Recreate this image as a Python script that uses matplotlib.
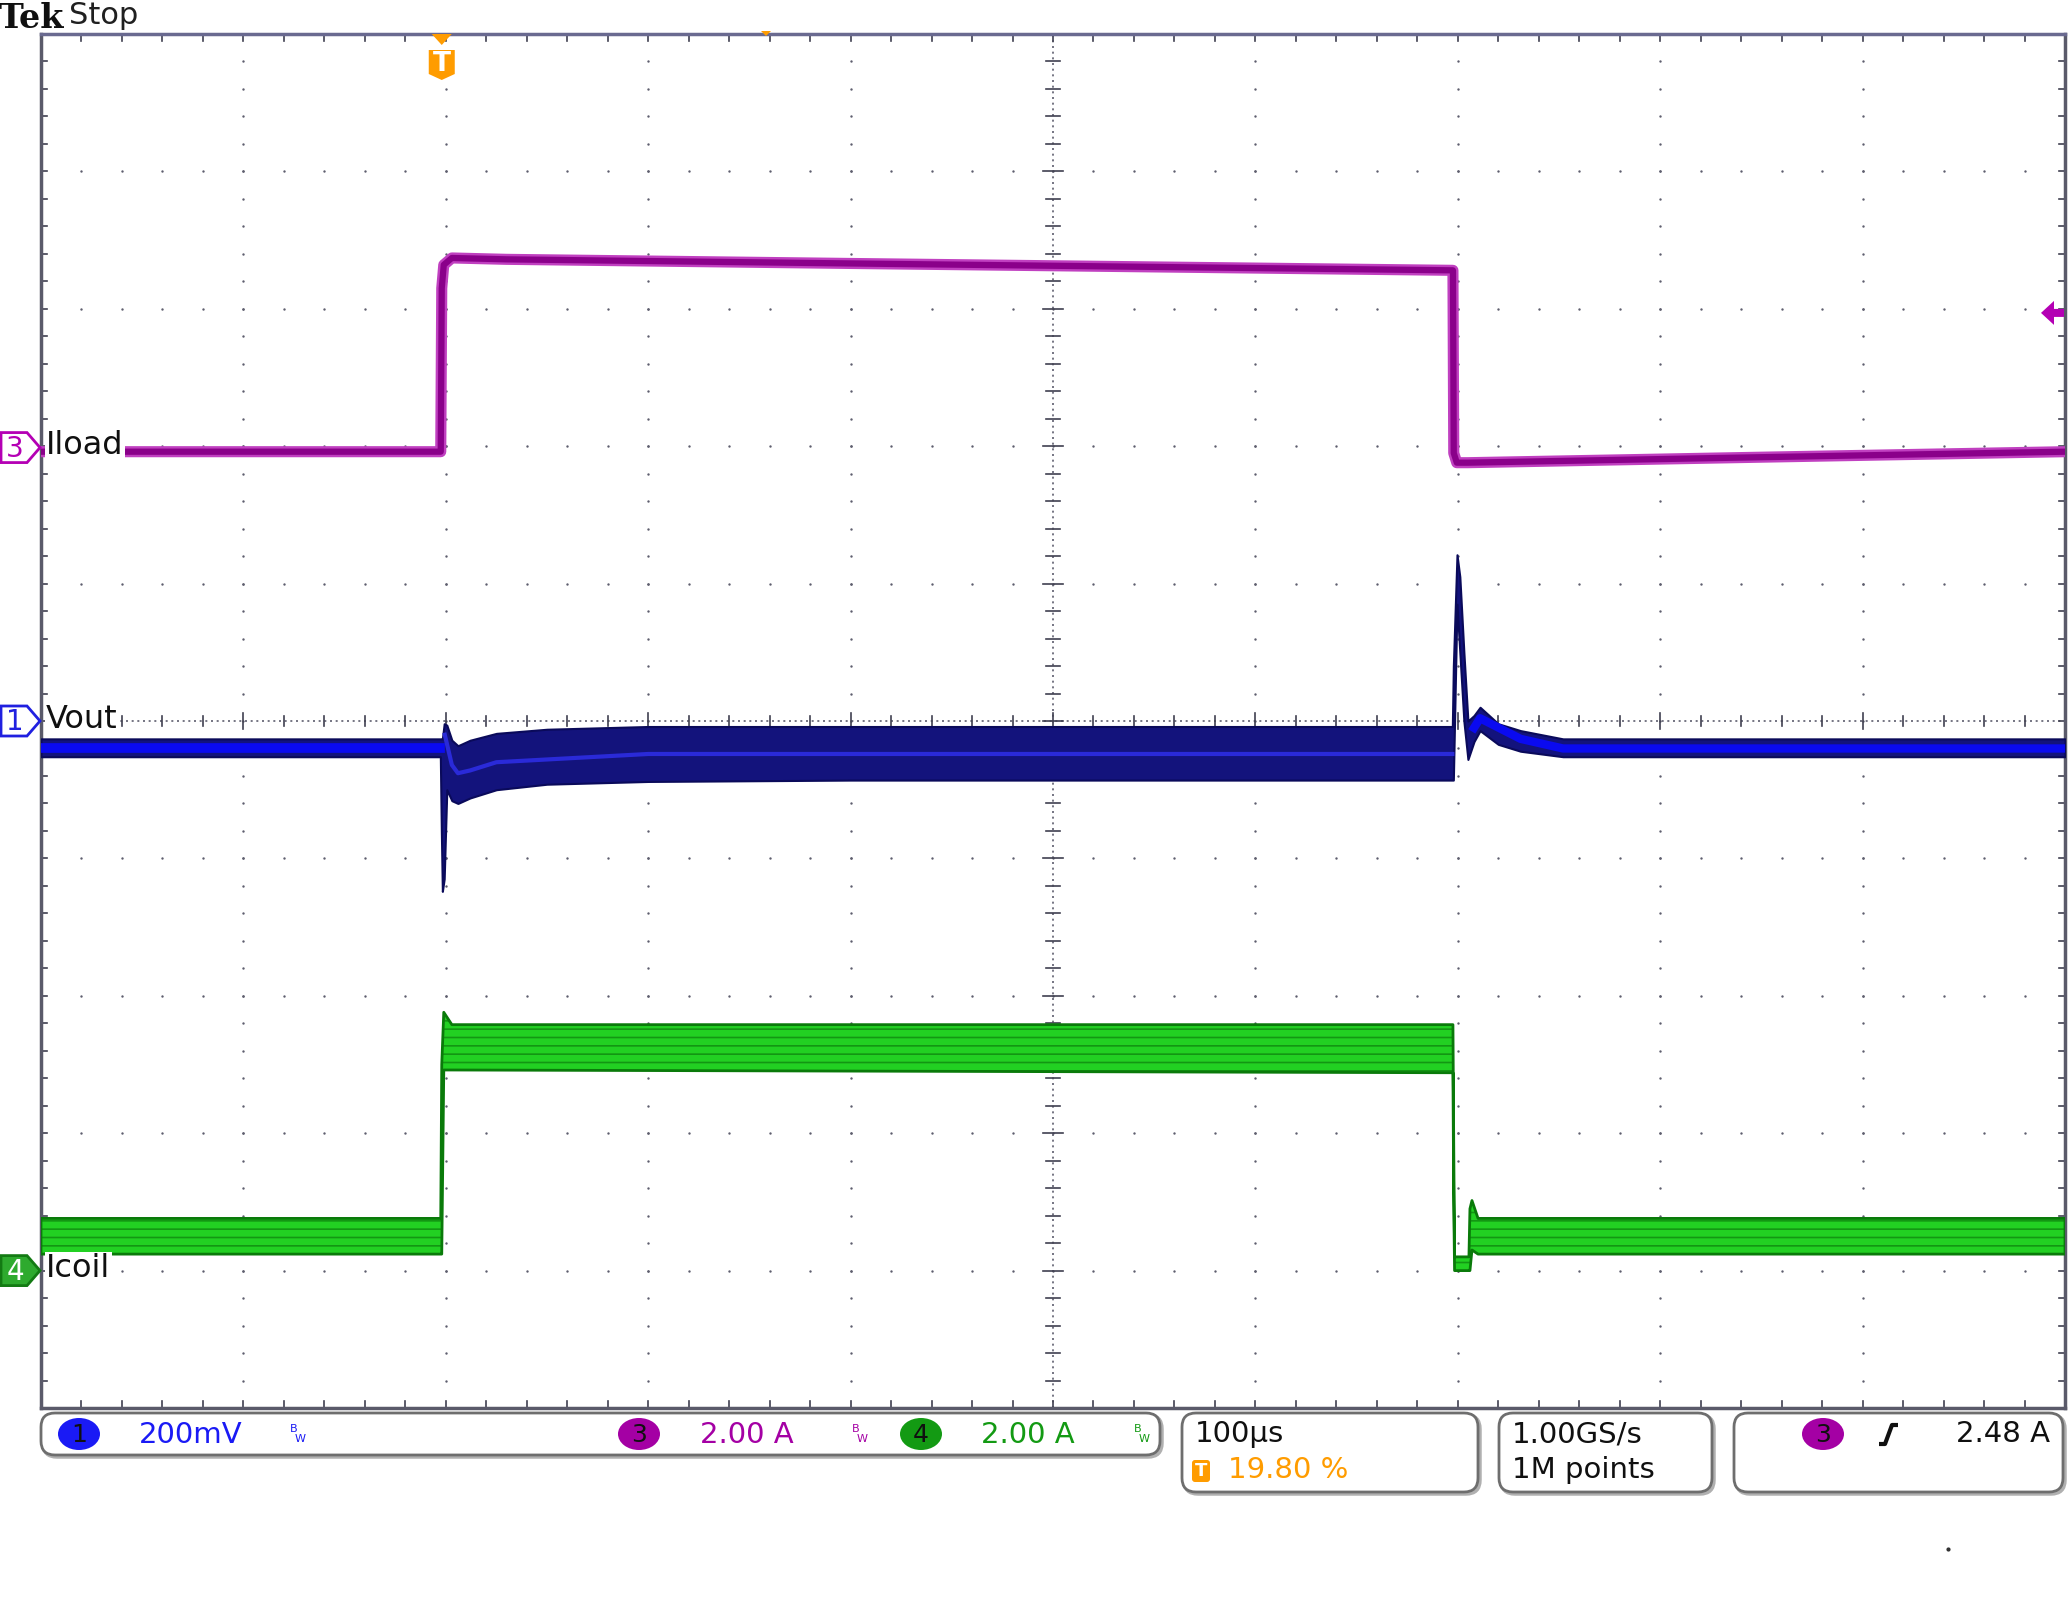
import numpy as np
import matplotlib
matplotlib.use("Agg")
import matplotlib.pyplot as plt
from matplotlib.patches import FancyBboxPatch, Polygon, Ellipse

# ---------------- data (time in µs, amplitude in screen divisions) ----------------
time_iload = [0, 197.5, 198.0, 199.0, 203, 230, 400, 697.6, 698.0, 699.5, 705, 850, 1000]
iload_div  = [6.96, 6.96, 8.15, 8.32, 8.37, 8.36, 8.33, 8.28, 6.95, 6.88, 6.88, 6.92, 6.96]

time_vout  = [0, 197.3, 197.8, 198.3, 199.2, 200.5, 203, 206, 212, 225, 250, 300, 400,
              697.3, 697.8, 699.6, 701, 703, 705, 708, 711, 720, 731, 752, 1000]
vout_upper = [4.87, 4.87, 4.87, 4.87, 4.98, 4.97, 4.86, 4.82, 4.86, 4.91, 4.94, 4.96, 4.96,
              4.96, 5.40, 6.21, 6.05, 5.50, 5.00, 5.04, 5.10, 4.98, 4.93, 4.87, 4.87]
vout_lower = [4.74, 4.74, 4.20, 3.76, 3.85, 4.50, 4.42, 4.40, 4.44, 4.50, 4.54, 4.56, 4.57,
              4.57, 4.57, 5.85, 5.50, 5.00, 4.72, 4.85, 4.93, 4.83, 4.78, 4.74, 4.74]
vout_base_t  = [0, 197.3]
vout_base_y  = [4.80, 4.80]
vout_load_t  = [199.5, 203, 206, 212, 225, 300, 697.3]
vout_load_y  = [4.90, 4.68, 4.62, 4.64, 4.70, 4.76, 4.76]
vout_rec_t   = [708, 711, 731, 752, 1000]
vout_rec_y   = [4.95, 5.02, 4.87, 4.80, 4.80]

time_icoil  = [0, 197.5, 198.0, 199.0, 203, 697.6, 698.0, 698.4, 705.5, 706.0, 707.0, 710, 1000]
icoil_upper = [1.38, 1.38, 2.50, 2.88, 2.79, 2.79, 1.90, 1.10, 1.10, 1.45, 1.51, 1.38, 1.38]
icoil_lower = [1.12, 1.12, 1.12, 2.46, 2.46, 2.44, 1.50, 1.00, 1.00, 1.00, 1.15, 1.12, 1.12]

channel_names   = ["Iload", "Vout", "Icoil"]
channel_ids     = ["3", "1", "4"]
channel_offsets = [6.99, 5.0, 1.0]     # ground markers, divisions
trigger_pos_us  = 198.0
trigger_level   = 7.97

scale_texts = ["200mV", "2.00 A", "2.00 A"]
timebase_text = "100µs"
trig_pct_text = "19.80 %"
rate_text = "1.00GS/s"
points_text = "1M points"
trig_level_text = "2.48 A"

# ---------------- colours ----------------
MAG = "#B400B4"
MAG_D = "#8A008A"
BLUE = "#0A0AF0"
NAVY = "#13137C"
GRN = "#22D022"
GRN_D = "#0A7A0A"
ORANGE = "#FF9C00"
GRID = "#5E5E6E"

plt.rcParams["hatch.linewidth"] = 1.2

W, H = 2071, 1619
fig = plt.figure(figsize=(W / 100, H / 100), dpi=100)
fig.patch.set_facecolor("white")

L, R, T, B = 41, 2065, 34, 1408
sc = fig.add_axes([L / W, 1 - B / H, (R - L) / W, (B - T) / H])
sc.set_xlim(0, 1000)
sc.set_ylim(0, 10)
sc.set_xticks([])
sc.set_yticks([])
for s in sc.spines.values():
    s.set_color("#5A5A6A")
    s.set_linewidth(2.5)
sc.spines["top"].set_color("#6A6A90")

# ---------------- graticule ----------------
minor_y = np.arange(0, 10.001, 0.2)
minor_x = np.arange(0, 1000.1, 20)
for k in range(1, 10):
    if k == 5:
        continue
    sc.scatter(np.full(minor_y.size, 100 * k), minor_y, s=3, color=GRID, lw=0, zorder=1)
    sc.scatter(minor_x, np.full(minor_x.size, k), s=3, color=GRID, lw=0, zorder=1)
# center cross
sc.plot([500, 500], [0, 10], color=GRID, lw=1.2, ls=(0, (1.2, 2.2)), zorder=1)
sc.plot([0, 1000], [5, 5], color=GRID, lw=1.2, ls=(0, (1.2, 2.2)), zorder=1)
for yv in minor_y:
    w = 5 if abs(yv - round(yv)) < 1e-6 else 3.5
    sc.plot([500 - w, 500 + w], [yv, yv], color="#404050", lw=1.2, zorder=1)
for xv in minor_x:
    h = 0.06 if abs(xv / 100 - round(xv / 100)) < 1e-6 else 0.04
    sc.plot([xv, xv], [5 - h, 5 + h], color="#404050", lw=1.2, zorder=1)
# border ticks
for xv in minor_x:
    sc.plot([xv, xv], [10, 9.95], color="#404050", lw=1.2, zorder=1)
    sc.plot([xv, xv], [0, 0.05], color="#404050", lw=1.2, zorder=1)
for yv in minor_y:
    sc.plot([0, 3], [yv, yv], color="#404050", lw=1.2, zorder=1)
    sc.plot([1000, 997], [yv, yv], color="#404050", lw=1.2, zorder=1)

# ---------------- traces ----------------
sc.plot(time_iload, iload_div, color="#C040C0", lw=8, solid_joinstyle="round", zorder=3)
sc.plot(time_iload, iload_div, color=MAG_D, lw=4.5, solid_joinstyle="round", zorder=3)

sc.fill_between(time_vout, vout_lower, vout_upper, facecolor=NAVY, edgecolor="#0A0A5A",
                lw=1.5, zorder=3)
sc.plot(vout_base_t, vout_base_y, color=BLUE, lw=7, zorder=3)
sc.plot(vout_load_t, vout_load_y, color="#2A2AD8", lw=3, zorder=3)
sc.plot(vout_rec_t, vout_rec_y, color=BLUE, lw=6, zorder=3)

sc.fill_between(time_icoil, icoil_lower, icoil_upper, facecolor=GRN, edgecolor="#139613",
                lw=0, hatch="--", zorder=3)
sc.fill_between(time_icoil, icoil_lower, icoil_upper, facecolor="none", edgecolor=GRN_D,
                lw=2, zorder=3)

# ---------------- overlay (annotations in pixel coords) ----------------
ov = fig.add_axes([0, 0, 1, 1], zorder=5)
ov.set_xlim(0, W)
ov.set_ylim(H, 0)
ov.axis("off")
ov.patch.set_alpha(0)

def to_pix_y(v):
    return H - sc.transData.transform((0, v))[1]

def to_pix_x(t):
    return sc.transData.transform((t, 0))[0]

# Tek Stop
ov.text(-1, 18, "Tek", fontsize=24, fontweight="bold", family="DejaVu Serif",
        va="center", ha="left", color="#101010")
ov.text(69, 16, "Stop", fontsize=22, family="DejaVu Sans", va="center", ha="left",
        color="#202020")

# channel markers and names
mk_style = {
    "3": dict(face="white", edge=MAG, txt=MAG),
    "1": dict(face="white", edge="#2020E0", txt="#2020E0"),
    "4": dict(face="#2EAA2E", edge="#137A13", txt="white"),
}
for name, cid, off in zip(channel_names, channel_ids, channel_offsets):
    y = to_pix_y(off)
    st = mk_style[cid]
    ov.add_patch(Polygon([(1, y - 15), (27, y - 15), (40, y), (27, y + 15), (1, y + 15)],
                         closed=True, facecolor=st["face"], edgecolor=st["edge"], lw=2, zorder=6))
    ov.text(15, y + 1, cid, fontsize=20, color=st["txt"], ha="center", va="center", zorder=7)
    ov.text(46, y - 2, name, fontsize=23, color="#101010", ha="left", va="center", zorder=7,
            bbox=dict(facecolor="white", edgecolor="none", pad=1))

# trigger position marker
tx = to_pix_x(trigger_pos_us)
ov.add_patch(Polygon([(tx - 10, 34), (tx + 10, 34), (tx, 45)], closed=True,
                     facecolor=ORANGE, edgecolor="none", zorder=6))
ov.add_patch(Polygon([(tx - 13, 50), (tx + 13, 50), (tx + 13, 74), (tx, 80), (tx - 13, 74)],
                     closed=True, facecolor=ORANGE, edgecolor="none", zorder=6))
ov.text(tx, 64, "T", fontsize=19, fontweight="bold", color="white", ha="center",
        va="center", zorder=7)
ov.add_patch(Polygon([(761, 31), (771, 31), (766, 36)], closed=True,
                     facecolor=ORANGE, edgecolor="none", zorder=6))

# trigger level arrow on right
ty = to_pix_y(trigger_level)
ov.add_patch(Polygon([(2041, ty), (2054, ty - 12), (2054, ty - 4), (2064, ty - 4),
                      (2064, ty + 4), (2054, ty + 4), (2054, ty + 12)], closed=True,
                     facecolor=MAG, edgecolor="none", zorder=6))

# ---------------- bottom readouts ----------------
def rbox(x0, y0, x1, y1):
    ov.add_patch(FancyBboxPatch((x0 + 2, y0 + 2), x1 - x0, y1 - y0,
                                boxstyle="round,pad=0,rounding_size=14",
                                facecolor="none", edgecolor="#B0B0B0", lw=2.5, zorder=5))
    ov.add_patch(FancyBboxPatch((x0, y0), x1 - x0, y1 - y0,
                                boxstyle="round,pad=0,rounding_size=14",
                                facecolor="white", edgecolor="#6E6E6E", lw=2, zorder=5))

rbox(41, 1413, 1160, 1455)
rbox(1182, 1413, 1478, 1492)
rbox(1499, 1413, 1712, 1492)
rbox(1734, 1413, 2063, 1492)

FS = 21
def chan_read(cx, col, cid, stx, txt, bwx):
    ov.add_patch(Ellipse((cx, 1434), 42, 32, facecolor=col, edgecolor="none", zorder=6))
    ov.text(cx, 1435, cid, fontsize=18, color="#101010", ha="center", va="center", zorder=7)
    ov.text(stx, 1435, txt, fontsize=FS, color=col, ha="left", va="center", zorder=7)
    ov.text(bwx, 1429, "B", fontsize=8, color=col, ha="left", va="center", zorder=7)
    ov.text(bwx + 5, 1439, "W", fontsize=8, color=col, ha="left", va="center", zorder=7)

chan_read(79, "#1A1AF5", "1", 139, scale_texts[0], 290)
chan_read(639, "#A400A4", "3", 700, scale_texts[1], 852)
chan_read(921, "#139A13", "4", 981, scale_texts[2], 1134)

ov.text(1195, 1434, timebase_text, fontsize=FS, color="#101010", ha="left", va="center", zorder=7)
ov.add_patch(FancyBboxPatch((1192, 1460), 18, 22, boxstyle="round,pad=0,rounding_size=3",
                            facecolor=ORANGE, edgecolor="none", zorder=6))
ov.text(1201, 1471, "T", fontsize=13, fontweight="bold", color="white", ha="center",
        va="center", zorder=7)
ov.text(1228, 1470, trig_pct_text, fontsize=FS, color=ORANGE, ha="left", va="center", zorder=7)

ov.text(1512, 1434, rate_text, fontsize=FS, color="#101010", ha="left", va="center", zorder=7)
ov.text(1512, 1470, points_text, fontsize=FS, color="#101010", ha="left", va="center", zorder=7)

ov.add_patch(Ellipse((1823, 1434), 42, 32, facecolor="#A400A4", edgecolor="none", zorder=6))
ov.text(1823, 1435, "3", fontsize=18, color="#101010", ha="center", va="center", zorder=7)
ov.plot([1879, 1885, 1892, 1898], [1444, 1444, 1425, 1425], color="#101010", lw=3,
        zorder=7, solid_capstyle="butt")
ov.text(2050, 1434, trig_level_text, fontsize=FS, color="#101010", ha="right", va="center",
        zorder=7)
ov.plot([1948], [1549], marker="o", ms=2, color="#303030", zorder=7)

fig.savefig("out.png", dpi=100, facecolor="white")
